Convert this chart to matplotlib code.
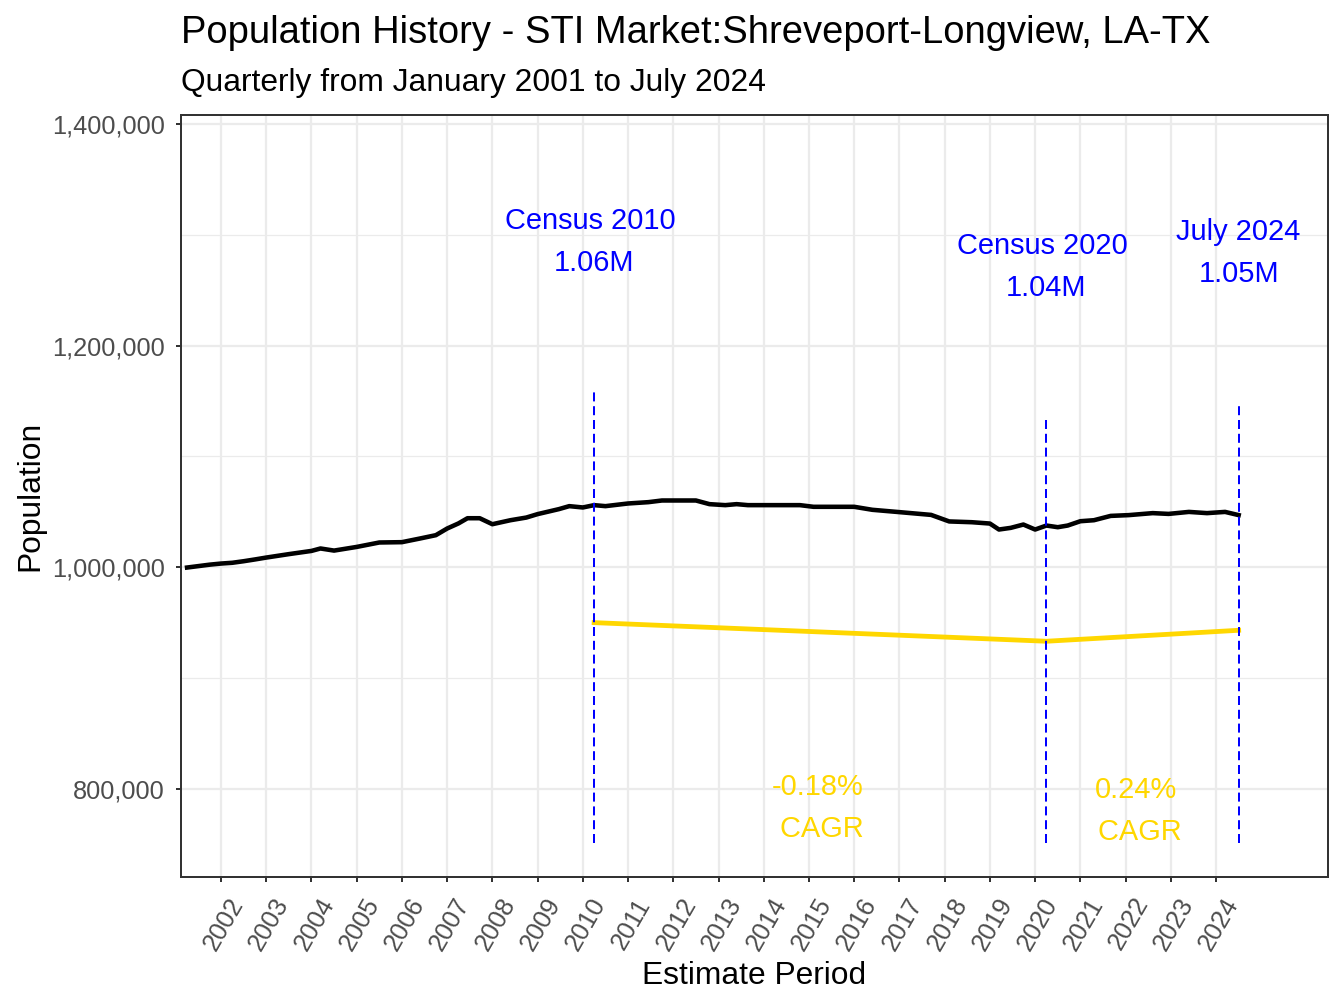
import matplotlib
matplotlib.use("Agg")
import matplotlib.pyplot as plt
from matplotlib.ticker import FuncFormatter, MultipleLocator, FixedLocator
from matplotlib.transforms import ScaledTranslation

plt.rcParams['font.family'] = ['Liberation Sans', 'DejaVu Sans']

# population estimates
years = [2001.25, 2001.5, 2001.75, 2002.0, 2002.25, 2002.5, 2002.75, 2003.0, 2003.5,
         2004.0, 2004.2, 2004.5, 2005.0, 2005.5, 2006.0, 2006.4, 2006.75, 2007.0,
         2007.25, 2007.45, 2007.72, 2008.0, 2008.4, 2008.75, 2009.0, 2009.47, 2009.7,
         2010.0, 2010.25, 2010.5, 2011.0, 2011.45, 2011.75, 2012.5, 2012.8, 2013.15,
         2013.4, 2013.65, 2014.8, 2015.1, 2016.0, 2016.4, 2017.0, 2017.7, 2018.1,
         2018.6, 2019.0, 2019.2, 2019.46, 2019.74, 2020.0, 2020.25, 2020.5, 2020.72,
         2021.0, 2021.3, 2021.67, 2022.07, 2022.6, 2022.95, 2023.4, 2023.8, 2024.2, 2024.5]
population = [999700, 1001000, 1002300, 1003300, 1004000, 1005400, 1007000, 1008700, 1011800,
              1014700, 1016900, 1015000, 1018300, 1022300, 1022600, 1025900, 1028900, 1034900,
              1039500, 1044200, 1044200, 1038800, 1042400, 1044800, 1047900, 1052400, 1055100,
              1053900, 1056000, 1055100, 1057500, 1058700, 1060200, 1060200, 1056900, 1056000,
              1056900, 1056000, 1056000, 1054500, 1054500, 1051800, 1049700, 1047200, 1041300,
              1040600, 1039400, 1034000, 1035500, 1038500, 1034000, 1037600, 1036100, 1037600,
              1041500, 1042400, 1046300, 1047000, 1048800, 1048100, 1049900, 1048800, 1049900, 1047000]

# CAGR trend line
cagr_years = [2010.25, 2020.25, 2024.5]
cagr_values = [950000, 933200, 943100]

# reference lines and labels
ref_years = [2010.25, 2020.25, 2024.5]
ref_tops = [1161600, 1134500, 1148100]
ref_bottom = 750800
ref_labels = ["Census 2010 \n1.06M", "Census 2020 \n1.04M", "July 2024\n1.05M"]
ref_label_y = [1293500, 1270900, 1283500]

cagr_labels = ["-0.18%\n CAGR", "0.24%\n CAGR"]
cagr_label_x = [2015.2, 2022.22]
cagr_label_y = [782800, 780100]

tick_years = list(range(2002, 2025))

fig = plt.figure(figsize=(7, 5.25), dpi=192)
ax = fig.add_axes([181/1344, 1 - 877/1008, (1328 - 181)/1344, (877 - 115)/1008])

ax.plot(years, population, color='black', lw=1.7, zorder=3)
ax.plot(cagr_years, cagr_values, color='#FFD700', lw=1.8, zorder=3)

for x, top in zip(ref_years, ref_tops):
    ax.plot([x, x], [ref_bottom, top], color='blue', lw=0.75,
            ls=(0, (4.5, 2.4)), zorder=4)

for x, y, s in zip(ref_years, ref_label_y, ref_labels):
    ax.text(x, y, s, color='blue', fontsize=10.9, ha='center', va='center',
            linespacing=1.6, zorder=5)

for x, y, s in zip(cagr_label_x, cagr_label_y, cagr_labels):
    ax.text(x, y, s, color='#FFD700', fontsize=10.9, ha='center', va='center',
            linespacing=1.6, zorder=5)

ax.set_xlim(2001.116, 2026.475)
ax.set_ylim(720500, 1408000)

ax.xaxis.set_major_locator(FixedLocator(tick_years))
ax.set_xticklabels([str(y) for y in tick_years])
ax.yaxis.set_major_locator(MultipleLocator(200000))
ax.yaxis.set_minor_locator(MultipleLocator(100000))
ax.yaxis.set_major_formatter(FuncFormatter(lambda v, p: f"{int(v):,}"))

ax.grid(which='major', color='#EBEBEB', lw=0.85, zorder=0)
ax.grid(which='minor', axis='y', color='#EBEBEB', lw=0.45, zorder=0)
ax.set_axisbelow(True)

for sp in ax.spines.values():
    sp.set_color('#333333')
    sp.set_linewidth(0.75)

ax.tick_params(axis='both', which='major', color='#333333', width=0.75, length=2.0,
               labelcolor='#4D4D4D', labelsize=9.5)
ax.tick_params(axis='y', which='minor', length=0)
ax.tick_params(axis='y', pad=4)
ax.tick_params(axis='x', pad=15.5)

shift = ScaledTranslation(3 / 192, 0, fig.dpi_scale_trans)
for lab in ax.get_xticklabels():
    lab.set_rotation(60)
    lab.set_ha('center')
    lab.set_va('center')
    lab.set_rotation_mode('anchor')
    lab.set_transform(lab.get_transform() + shift)

fig.text(181/1344, 1 - 43.3/1008, "Population History - STI Market:Shreveport-Longview, LA-TX",
         fontsize=14.3, ha='left', va='baseline')
fig.text(181/1344, 1 - 90.7/1008, "Quarterly from January 2001 to July 2024",
         fontsize=11.9, ha='left', va='baseline')
fig.text(754.5/1344, 1 - 976/1008, "Estimate Period", fontsize=11.9, ha='center', va='center')
fig.text(30/1344, 1 - 496/1008, "Population", fontsize=11.9, ha='center', va='center',
         rotation=90)

fig.savefig("out.png", dpi=192, facecolor='white')
